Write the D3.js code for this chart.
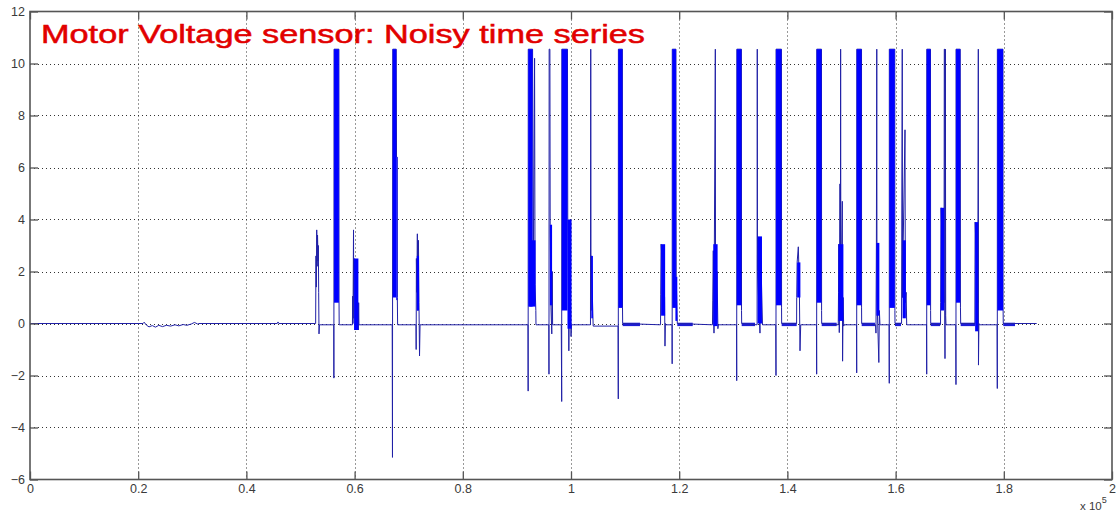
<!DOCTYPE html>
<html>
<head>
<meta charset="utf-8">
<script src="https://cdn.jsdelivr.net/npm/d3@7"></script>
<style>
  body { margin: 0; background: #fff; }
  svg { display: block; font-family: "Liberation Sans", Arial, sans-serif; }
</style>
</head>
<body>
<svg id="chart"></svg>
<script>
const width = 1118;
const height = 516;

// tick values
const xTicks = [0, 20000, 40000, 60000, 80000, 100000, 120000, 140000, 160000, 180000, 200000];
const yTicks = [-6, -4, -2, 0, 2, 4, 6, 8, 10, 12];

// thin trace: [sample, volts]
const trace = [
  [0, 0], [20900, 0], [21100, 0.05], [21500, -0.06], [22000, -0.13], [22600, -0.08], [23200, -0.14],
  [23800, -0.07], [24500, -0.12], [25200, -0.07], [26000, -0.1], [26800, -0.05], [27500, -0.09],
  [28300, -0.04], [29000, -0.07], [29800, -0.02], [30400, 0.04], [31000, -0.02], [31200, 0],
  [45700, 0], [45840, 0.06], [46000, 0],
  [52800, 0], [52860, 2.6], [52920, 1.4], [53000, 3.6], [53080, 2.2], [53150, 3.4], [53250, 2.4],
  [53300, 3.0], [53360, 1.2], [53420, -0.4], [53500, -0.05],
  [56150, -0.05], [56170, -2.1], [56200, 10.55], [57100, 10.55], [57120, 0.9], [57150, -0.05],
  [59600, -0.05], [59640, 1.05], [59700, 0], [59800, 3.6], [59850, 0.2], [59900, 2.5],
  [60700, -0.25], [60750, 0.8], [60800, -0.05],
  [66950, -0.05], [67000, -5.15], [67050, 10.55], [67700, 10.55], [67750, 6.4], [67880, 6.4],
  [67900, 1.0], [67950, -0.05],
  [71350, -0.05], [71380, -1.0], [71420, 2.5], [71500, 1.2], [71600, 3.45], [71700, 0.5],
  [71800, 3.2], [71900, 0.8], [72000, -1.25], [72100, -0.05],
  [92050, -0.05], [92080, -2.6], [92100, 10.55], [92900, 10.55], [93000, 1.0], [93270, 10.2],
  [93350, 1.5], [93500, 0.5], [93530, -0.05],
  [95900, -0.05], [95930, -1.95], [95960, 10.55], [96100, 10.55], [96150, 3.8], [96300, 0.6],
  [96450, -0.4], [96540, 2.0], [96600, -0.05],
  [98200, -0.05], [98280, -3.0], [98300, 10.55], [99350, 10.55], [99400, 4.0], [99600, -1.05],
  [99800, 2.5], [100000, -0.5], [100100, -0.05],
  [103600, -0.05], [103650, 10.55], [103700, 0.5], [103750, 2.6], [104100, -0.1],
  [108700, -0.1], [108740, -2.9], [108760, 10.55], [109500, 10.55], [109520, 0.6], [109550, 0],
  [116550, -0.05], [116580, 1.1], [116650, 3.05], [117300, 1.0], [117370, -0.87], [117450, 0], [117560, -0.05],
  [118680, -0.05], [118700, -1.55], [118720, 10.55], [119400, 10.55], [119450, 1.8], [119650, 0],
  [126150, -0.05], [126200, 0.9], [126300, 2.8], [126430, -0.37], [126500, 3.0], [126680, 10.55],
  [126720, 0.5], [127000, 2.0], [127150, -0.2], [127250, -0.05],
  [130600, -0.05], [130630, -2.2], [130650, 10.55], [131500, 10.55], [131520, 0.5], [131550, 0],
  [134400, -0.05], [134430, 10.55], [134470, 2.0], [134930, -0.37], [135100, 2.5], [135400, -0.05],
  [137850, -0.05], [137890, -2.0], [137900, 10.55], [138900, 10.55], [138920, 0.6], [138940, 0],
  [141700, 0], [141720, 1.0], [141800, 2.35], [142020, 2.95], [142200, 1.5], [142330, -1.05], [142460, -0.05],
  [145380, -0.05], [145410, -1.95], [145420, 10.55], [146300, 10.55], [146320, 0.5], [146340, 0],
  [149400, -0.05], [149450, 1.2], [149500, 3.05], [149590, -0.35], [149720, 5.37], [149800, 2.0],
  [149840, 10.55], [149880, 1.5], [150050, 3.0], [150150, 4.7], [150200, -1.45], [150300, 1.0],
  [150400, -0.1], [150460, -0.05],
  [152780, -0.05], [152810, -1.9], [152820, 10.55], [153700, 10.55], [153710, 0.6], [153730, 0],
  [156300, -0.05], [156370, -0.37], [156450, 3.1], [156520, 10.55], [156560, 1.0], [156900, -1.5],
  [157000, 0.5], [157110, -0.05],
  [158800, -0.05], [158830, -2.3], [158840, 10.55], [159850, 10.55], [159870, 0.5], [159890, 0],
  [161100, 0], [161230, 10.55], [161280, 1.0], [161350, 2.4], [161740, 7.45], [161800, 0.8],
  [161950, 1.2], [162050, -0.05],
  [165720, -0.05], [165750, -1.95], [165760, 10.55], [166450, 10.55], [166470, 0.5], [166490, 0],
  [168300, -0.05], [168330, 0.8], [168400, 4.45], [168950, 0.8], [169000, 10.55], [169080, 10.55],
  [169100, 0.5], [169130, -1.35], [169200, 10.55], [169260, 0.3], [169310, -0.05],
  [171120, -0.05], [171160, -2.35], [171170, 10.55], [171950, 10.55], [171990, 0.6], [172030, 0],
  [174650, 0], [174700, 3.9], [175200, 0.8], [175290, 10.55], [175320, -1.6], [175400, 0], [175460, -0.05],
  [178760, -0.05], [178800, -2.5], [178810, 10.55], [179850, 10.55], [179870, 0.6], [179900, 0],
  [186080, 0]
];

// dense oscillation bands: [from, to, high, low]
const bursts = [
  [56200, 57100, 10.55, 0.8],
  [59900, 60700, 2.5, -0.25],
  [67050, 67700, 10.55, 1.0], [67700, 67900, 6.4, 0.9],
  [71500, 71900, 2.6, 0.5],
  [92100, 92900, 10.55, 0.65], [92300, 93450, 3.2, 0.65],
  [96100, 96500, 3.8, 0.7],
  [98300, 99350, 10.55, 0.5], [99350, 100100, 4.0, -0.2],
  [103750, 104050, 2.6, 0.2],
  [108760, 109500, 10.55, 0.6],
  [116650, 117400, 3.05, 0.3],
  [118720, 119400, 10.55, 0.6], [119300, 119650, 1.8, 0.1],
  [126300, 127100, 3.05, -0.1],
  [130650, 131500, 10.55, 0.7],
  [134500, 135300, 3.35, 0],
  [137900, 138900, 10.55, 0.7],
  [141800, 142400, 2.35, 1.0],
  [145420, 146300, 10.55, 0.8],
  [149450, 150350, 3.05, 0.1],
  [152820, 153700, 10.55, 0.7],
  [156450, 157000, 3.1, 0.3],
  [158840, 159850, 10.55, 0.6],
  [161300, 161900, 3.2, 0.2],
  [165760, 166450, 10.55, 0.7],
  [168350, 169000, 4.45, 0.5],
  [171170, 171950, 10.55, 0.8],
  [174700, 175250, 3.9, -0.3],
  [178810, 179850, 10.55, 0.5]
];

// busier stretches of baseline after bursts: [from, to, high, low]
const busyBaseline = [
  [109550, 112750, 0.03, -0.1],
  [119650, 122500, 0.03, -0.1],
  [131550, 134010, 0.03, -0.1],
  [138940, 141720, 0.03, -0.1],
  [146340, 149110, 0.03, -0.1],
  [153730, 156190, 0.03, -0.1],
  [159890, 161000, 0.03, -0.1],
  [166490, 168210, 0.03, -0.1],
  [172030, 174670, 0.03, -0.1],
  [179900, 182070, 0.03, -0.1]
];

const margin = {top: 11.5, right: 6, bottom: 36.5, left: 30};
const plotW = width - margin.left - margin.right;
const plotH = height - margin.top - margin.bottom;

const svg = d3.select('#chart')
    .attr('width', width)
    .attr('height', height);

const x = d3.scaleLinear().domain([0, 200000]).range([margin.left, margin.left + plotW]);
const y = d3.scaleLinear().domain([-6, 12]).range([margin.top + plotH, margin.top]);

// grid
const grid = svg.append('g').attr('stroke', '#333').attr('stroke-dasharray', '1 3').attr('stroke-width', 1);
grid.selectAll('.vg').data(xTicks.slice(1, -1)).enter().append('line')
    .attr('x1', d => Math.round(x(d)) + 0.5).attr('x2', d => Math.round(x(d)) + 0.5)
    .attr('y1', y(12)).attr('y2', y(-6));
grid.selectAll('.hg').data(yTicks.slice(1, -1)).enter().append('line')
    .attr('y1', d => Math.round(y(d)) + 0.5).attr('y2', d => Math.round(y(d)) + 0.5)
    .attr('x1', x(0)).attr('x2', x(200000));

// data
const plot = svg.append('g');
plot.selectAll('.busy').data(busyBaseline).enter().append('rect')
    .attr('x', d => x(d[0])).attr('width', d => x(d[1]) - x(d[0]))
    .attr('y', d => y(d[2])).attr('height', d => Math.max(2, y(d[3]) - y(d[2])))
    .attr('fill', '#1c1cd8');

const line = d3.line().x(d => x(d[0])).y(d => y(d[1]));
plot.append('path')
    .datum(trace)
    .attr('fill', 'none')
    .attr('stroke', '#2020a6')
    .attr('stroke-width', 1)
    .attr('d', line);

plot.selectAll('.burst').data(bursts).enter().append('rect')
    .attr('x', d => x(d[0])).attr('width', d => x(d[1]) - x(d[0]))
    .attr('y', d => y(d[2])).attr('height', d => y(d[3]) - y(d[2]))
    .attr('fill', '#0000ff');

// axes
const axisColor = '#555';
const xAxisB = d3.axisBottom(x).tickValues(xTicks).tickSizeInner(-8).tickSizeOuter(0).tickPadding(5)
    .tickFormat(d => d === 0 ? '0' : String(+(d / 1e5).toFixed(1)));
const xAxisT = d3.axisTop(x).tickValues(xTicks).tickSizeInner(-8).tickSizeOuter(0).tickFormat('');
const yAxisL = d3.axisLeft(y).tickValues(yTicks).tickSizeInner(-8).tickSizeOuter(0).tickPadding(5);
const yAxisR = d3.axisRight(y).tickValues(yTicks).tickSizeInner(-8).tickSizeOuter(0).tickFormat('');

function styleAxis(g) {
  g.select('.domain').remove();
  g.selectAll('line').attr('stroke', axisColor).attr('stroke-width', 1.3);
  g.selectAll('text').attr('fill', '#3a3a3a').attr('font-size', 12.5)
      .attr('font-family', '"Liberation Sans", Arial, sans-serif');
}

svg.append('g').attr('transform', `translate(0,${y(-6)})`).call(xAxisB).call(styleAxis);
svg.append('g').attr('transform', `translate(0,${y(12)})`).call(xAxisT).call(styleAxis);
svg.append('g').attr('transform', `translate(${x(0)},0)`).call(yAxisL).call(styleAxis);
svg.append('g').attr('transform', `translate(${x(200000)},0)`).call(yAxisR).call(styleAxis);

svg.append('rect')
    .attr('x', x(0)).attr('y', y(12))
    .attr('width', x(200000) - x(0)).attr('height', y(-6) - y(12))
    .attr('fill', 'none').attr('stroke', axisColor).attr('stroke-width', 1.6);

// exponent label
const expo = svg.append('text')
    .attr('x', 1080).attr('y', 510)
    .attr('fill', '#3a3a3a').attr('font-size', 11.5);
expo.append('tspan').text('x 10');
expo.append('tspan').attr('dy', -7).attr('font-size', 9).text('5');

// title
svg.append('text')
    .attr('x', 41).attr('y', 42.5)
    .attr('fill', '#e20000')
    .attr('stroke', '#e20000')
    .attr('stroke-width', 0.5)
    .attr('font-size', 25)
    .attr('textLength', 604)
    .attr('lengthAdjust', 'spacingAndGlyphs')
    .attr('font-family', '"Liberation Sans", Arial, sans-serif')
    .text('Motor Voltage sensor: Noisy time series');
</script>
</body>
</html>
